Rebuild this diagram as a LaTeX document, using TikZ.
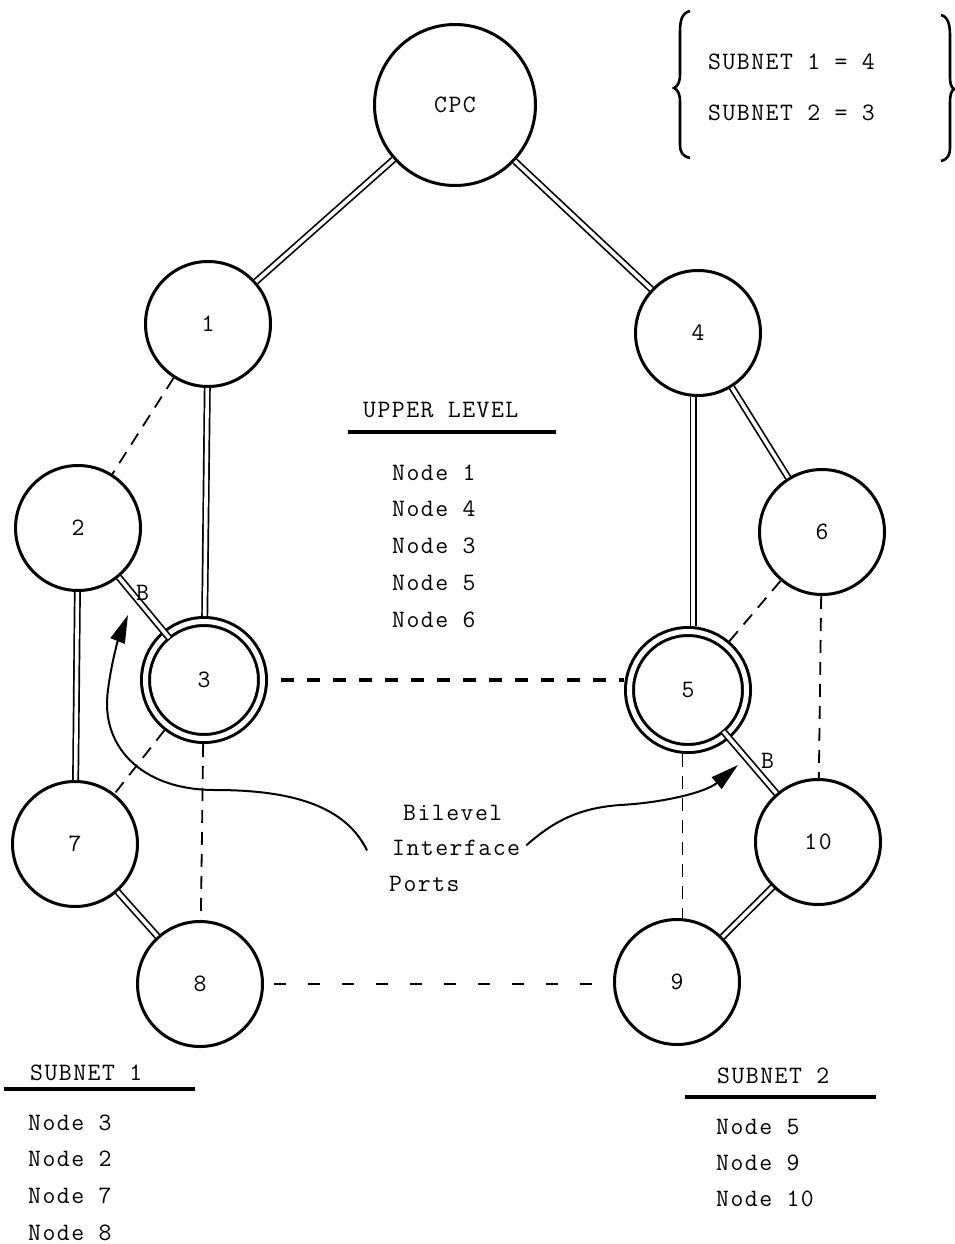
\documentclass[tikz,border=0pt]{standalone}
\usepackage{fontspec}
\setmonofont[LetterSpace=6]{Latin Modern Mono}
\newcommand\twf{\ttfamily\fontsize{25}{30}\selectfont}
\usetikzlibrary{calc,arrows.meta}
\begin{document}
\begin{tikzpicture}[x=1pt,y=-1pt,
  circ/.style={circle, draw, line width=3pt, minimum size=125pt, inner sep=0pt, font=\twf},
  bigcirc/.style={circ, minimum size=161pt},
  dcirc/.style={circ, double, double distance=5pt, minimum size=117pt, outer sep=5.5pt},
  dbl/.style={double, line width=1.7pt, double distance=3.6pt},
  dsh/.style={line width=1.8pt, dash pattern=on 13pt off 9pt},
  dshthick/.style={line width=3.5pt, dash pattern=on 13pt off 13pt, dash phase=13pt},
  dshbot/.style={line width=2.8pt, dash pattern=on 12pt off 22pt, dash phase=24pt},
  txt/.style={font=\twf, inner sep=0pt, anchor=base west},
  rule/.style={line width=3.5pt},
  brc/.style={line width=2.6pt},
  curvearrow/.style={line width=2pt, -{Triangle[length=28pt,width=15pt]}}
]
\useasboundingbox (0,0) rectangle (954,1244);

% nodes
\node[bigcirc] (cpc) at (455,105) {CPC};
\node[circ] (n1) at (208,324) {1};
\node[circ] (n4) at (698,333) {4};
\node[circ] (n2) at (78,528) {2};
\node[circ] (n6) at (822,532) {6};
\node[dcirc] (n3) at (204,680) {3};
\node[dcirc] (n5) at (688,690) {5};
\node[circ] (n7) at (75,844) {7};
\node[circ] (n10) at (818,842) {10};
\node[circ] (n8) at (200,984) {8};
\node[circ] (n9) at (677,982) {9};

% helper coordinates for the vertical links
\coordinate (m45) at ($(n4.south)!.5!(n5.north)$);
\coordinate (m59) at ($(n5.south)!.5!(n9.north)$);

% double links
\draw[dbl] (cpc) -- (n1);
\draw[dbl] (cpc) -- (n4);
\draw[dbl] (n1) -- (n3);
\draw[dbl] (n4.south -| m45) -- (n5.north -| m45);
\draw[dbl] (n4) -- (n6);
\draw[dbl] (n2) -- (n7);
\draw[dbl] (n7) -- (n8);
\draw[dbl] (n9) -- (n10);
\draw[dbl] (n2) -- ($(n3)!54.5pt!(n2)$);
\draw[dbl] (n10) -- ($(n5)!54.5pt!(n10)$);

% dashed links
\draw[dsh] (n1) -- (n2);
\draw[dsh] (n3) -- (n7);
\draw[dsh] (n3) -- (n8);
\draw[dsh] (n5) -- (n6);
\draw[dsh] (n5.south -| m59) -- (n9.north -| m59);
\draw[dsh] (n6) -- (n10);
\draw[dshthick] (n3.east) -- (n3.east -| n5.west);
\draw[dshbot] (n8.east) -- (n8.east -| n9.west);

% B labels
\node[txt] (bL) at (136,600) {B};
\node[txt] (bR) at (761,768) {B};

% subnet box with braces
\node[txt] (s1) at (708,70) {SUBNET 1 = 4};
\node[txt] (s2) at (708,121) {SUBNET 2 = 3};
\draw[brc] (690,11) .. controls (682,13) and (680,20) .. (680,32) -- (680,74)
  .. controls (680,82) and (678,86) .. (674,88)
  .. controls (678,90) and (680,94) .. (680,102) -- (680,144)
  .. controls (680,152) and (682,156) .. (690,158);
\draw[brc] (941,15) .. controls (948,17) and (950,24) .. (950,36) -- (950,76)
  .. controls (950,84) and (951,87) .. (954,89)
  .. controls (951,91) and (950,95) .. (950,103) -- (950,147)
  .. controls (950,155) and (948,159) .. (941,161);

% upper level list
\node[txt] (ulh) at (363,417) {UPPER LEVEL};
\draw[rule] (348,432) -- (556,432);
\foreach \t [count=\i] in {1,4,3,5,6}
  \node[txt] (ul\i) at (392,{480+(\i-1)*36.8}) {Node \t};

% subnet 1 list
\node[txt] (sah) at (30,1080) {SUBNET 1};
\draw[rule] (4,1089) -- (195,1089);
\foreach \t [count=\i] in {3,2,7,8}
  \node[txt] (sa\i) at (28,{1130+(\i-1)*36.7}) {Node \t};

% subnet 2 list
\node[txt] (sbh) at (717,1083) {SUBNET 2};
\draw[rule] (685,1097) -- (876,1097);
\foreach \t [count=\i] in {5,9,10}
  \node[txt] (sb\i) at (716,{1134+(\i-1)*36}) {Node \t};

% bilevel interface ports
\node[txt] (bil) at (403,820) {Bilevel};
\node[txt] (iface) at (392,855) {Interface};
\node[txt] (ports) at (389,891) {Ports};

\coordinate (tipL) at (128,615);
\coordinate (tipR) at (738,765);
\draw[curvearrow] ($(iface.west)+(-25,3)$) .. controls (345,805) and (290,790) .. (215,790)
  .. controls (140,790) and (100,745) .. (108,690)
  .. controls (111,665) and (118,640) .. (tipL);
\draw[curvearrow] ($(iface.east)+(6,-2)$) .. controls (555,820) and (580,808) .. (620,805)
  .. controls (660,803) and (705,793) .. (tipR);
\end{tikzpicture}
\end{document}
